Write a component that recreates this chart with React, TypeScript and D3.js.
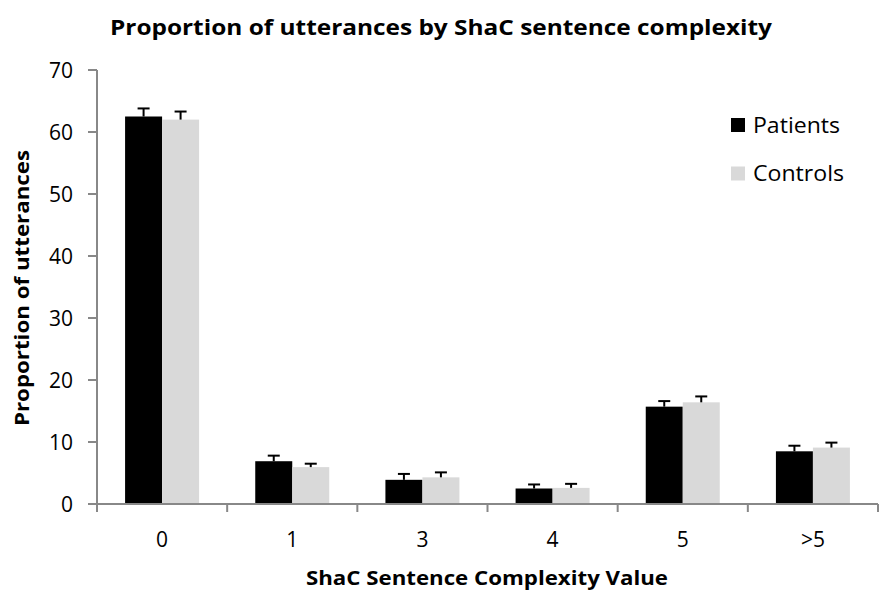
import React from "react";
import * as d3 from "d3";

const categories = ["0", "1", "3", "4", "5", ">5"];
const seriesNames = ["Patients", "Controls"];
const patients = [62.5, 6.9, 3.9, 2.5, 15.7, 8.5];
const patientsErr = [1.3, 0.9, 0.95, 0.65, 0.9, 0.9];
const controls = [62.0, 5.95, 4.3, 2.6, 16.4, 9.1];
const controlsErr = [1.3, 0.55, 0.8, 0.65, 0.95, 0.8];
const yTicks = [0, 10, 20, 30, 40, 50, 60, 70];
const colors = ["#000000", "#d9d9d9"];

const W = 893;
const H = 591;
const left = 97;
const right = 878;
const top = 70;
const bottom = 504;

export default function App() {
  const x = d3.scaleBand<string>().domain(categories).range([left, right]).padding(0);
  const y = d3.scaleLinear().domain([0, 70]).range([bottom, top]);
  const inner = d3.scaleBand<string>().domain(seriesNames).range([0, 74]);
  const groupOffset = (x.bandwidth() - 74) / 2;
  const series = [
    { name: seriesNames[0], values: patients, errs: patientsErr, color: colors[0] },
    { name: seriesNames[1], values: controls, errs: controlsErr, color: colors[1] },
  ];
  const font = "Open Sans, Liberation Sans, sans-serif";
  return (
    <svg width={W} height={H} style={{ position: "absolute", left: 0, top: 0, background: "#fff" }} fontFamily={font}>
      <text x={441} y={35} textAnchor="middle" fontSize={21.5} fontWeight="bold" textLength={662} lengthAdjust="spacingAndGlyphs">
        Proportion of utterances by ShaC sentence complexity
      </text>
      {/* y axis */}
      <line x1={left} x2={left} y1={top} y2={bottom} stroke="#888" strokeWidth={2} />
      {yTicks.map((t) => (
        <g key={t}>
          <line x1={left - 9} x2={left} y1={y(t)} y2={y(t)} stroke="#888" strokeWidth={2} />
          <text x={73} y={y(t) + 7.5} textAnchor="end" fontSize={21}>{t}</text>
        </g>
      ))}
      {/* bars */}
      {series.map((s) =>
        categories.map((c, i) => {
          const bx = (x(c) as number) + groupOffset + (inner(s.name) as number);
          const bw = inner.bandwidth();
          const cx = bx + bw / 2;
          const topV = s.values[i] + s.errs[i];
          return (
            <g key={s.name + c}>
              <rect x={bx} y={y(s.values[i])} width={bw} height={bottom - y(s.values[i])} fill={s.color} />
              <line x1={cx} x2={cx} y1={y(s.values[i])} y2={y(topV)} stroke="#000" strokeWidth={2} />
              <line x1={cx - 6} x2={cx + 6} y1={y(topV)} y2={y(topV)} stroke="#000" strokeWidth={2} />
            </g>
          );
        })
      )}
      {/* x axis */}
      <line x1={left - 9} x2={right} y1={bottom} y2={bottom} stroke="#888" strokeWidth={2} />
      {categories.map((c) => (
        <line key={"t" + c} x1={x(c) as number} x2={x(c) as number} y1={bottom} y2={bottom + 8} stroke="#888" strokeWidth={2} />
      ))}
      <line x1={right} x2={right} y1={bottom} y2={bottom + 8} stroke="#888" strokeWidth={2} />
      {categories.map((c) => (
        <text key={"l" + c} x={(x(c) as number) + x.bandwidth() / 2} y={546.5} textAnchor="middle" fontSize={21}>{c}</text>
      ))}
      <text x={487} y={585} textAnchor="middle" fontSize={20} fontWeight="bold" textLength={362} lengthAdjust="spacingAndGlyphs">
        ShaC Sentence Complexity Value
      </text>
      <text transform={`translate(29,288) rotate(-90)`} textAnchor="middle" fontSize={20} fontWeight="bold" textLength={276} lengthAdjust="spacingAndGlyphs">
        Proportion of utterances
      </text>
      {/* legend */}
      {series.map((s, i) => (
        <g key={"lg" + s.name} transform={`translate(731,${118 + i * 48.5})`}>
          <rect x={0} y={0} width={14} height={14} fill={s.color} />
          <text x={22} y={14.5} fontSize={21.5} textLength={s.name === "Patients" ? 87 : 91} lengthAdjust="spacingAndGlyphs">{s.name}</text>
        </g>
      ))}
    </svg>
  );
}
